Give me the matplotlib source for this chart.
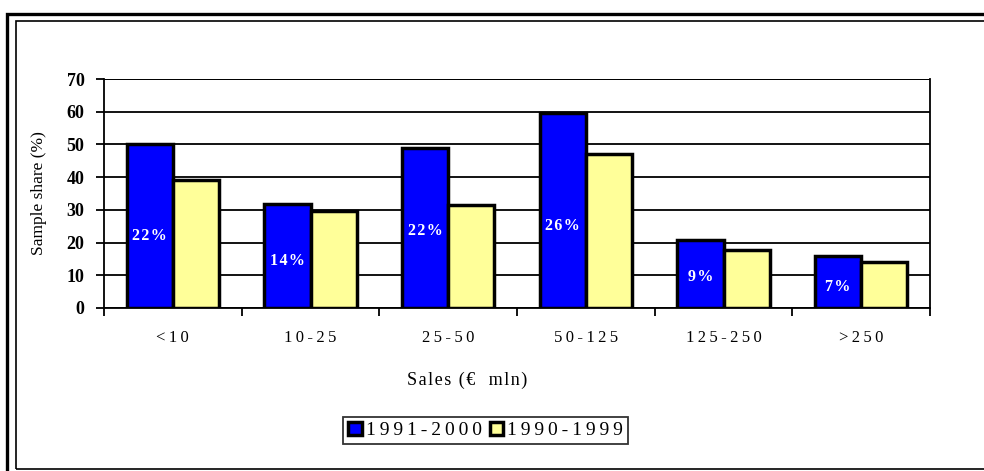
import matplotlib.pyplot as plt
import numpy as np
from matplotlib.patches import Rectangle

categories = ["<10", "10-25", "25-50", "50-125", "125-250", ">250"]
share_1991_2000 = [50, 31.8, 49, 59.5, 20.8, 16]
share_1990_1999 = [39, 29.7, 31.5, 47.2, 17.6, 14]
bar_labels = ["22%", "14%", "22%", "26%", "9%", "7%"]
label_heights = [22, 14.5, 23.5, 25, 9.5, 6.3]
series_names = ["1991-2000", "1990-1999"]

BLUE = "#0000ff"
YELLOW = "#ffff99"
SERIF = ["Liberation Serif", "DejaVu Serif"]


def spaced(s, sep="\u200a"):
    # mimic the wide letter spacing of the original
    return sep.join(s)


plt.rcParams["font.family"] = SERIF

fig = plt.figure(figsize=(9.84, 4.71), dpi=100)

# double frame around the chart area
fig.patches.append(Rectangle((7 / 984, -0.1), 1.2, 0.1 + 457 / 471, transform=fig.transFigure,
                             fill=False, lw=2.4, ec="black"))
fig.patches.append(Rectangle((16 / 984, 2.5 / 471), 1.2, 448 / 471, transform=fig.transFigure,
                             fill=False, lw=1.2, ec="black"))

ax = fig.add_axes([104 / 984, 1 - 308 / 471, 826 / 984, 229 / 471])

x = np.arange(len(categories))
w = 0.335
ax.bar(x - w / 2, share_1991_2000, w, color=BLUE, edgecolor="black", lw=2.5,
       label=spaced(series_names[0], "\u2009"), zorder=3)
ax.bar(x + w / 2, share_1990_1999, w, color=YELLOW, edgecolor="black", lw=2.5,
       label=spaced(series_names[1], "\u2009"), zorder=3)

for xi, txt, h in zip(x, bar_labels, label_heights):
    ax.text(xi - w / 2, h, spaced(txt), color="white", fontweight="bold", fontsize=11.5,
            ha="center", va="center", zorder=4)

ax.set_xlim(-0.5, len(categories) - 0.5)
ax.set_ylim(0, 70)
ax.set_yticks(np.arange(0, 71, 10))
ax.set_yticklabels([str(v) for v in range(0, 71, 10)], fontweight="bold", fontsize=13)
ax.yaxis.grid(True, color="black", lw=1.3, zorder=0)
ax.axhline(70, color="black", lw=1.3, zorder=0)

ax.set_xticks(np.arange(-0.5, len(categories)), minor=False)
ax.set_xticklabels([])
ax.set_xticks(x, minor=True)
ax.set_xticklabels([spaced(c, "\u2009") for c in categories], minor=True, fontsize=12)
ax.tick_params(axis="x", which="major", direction="out", length=6, width=1.3)
ax.tick_params(axis="x", which="minor", length=0, pad=16)
ax.tick_params(axis="y", direction="out", length=6, width=1.3, pad=8)

for side in ["left", "right", "bottom"]:
    ax.spines[side].set_linewidth(1.3)
ax.spines["top"].set_visible(False)

ax.set_ylabel("Sample share (%)", fontsize=12.5, labelpad=14)
ax.set_xlabel(spaced("Sales (€  mln)"), fontsize=13, labelpad=14)
ax.xaxis.set_label_coords(0.44, -0.28)

leg = ax.legend(loc="center", bbox_to_anchor=(0.462, -0.535), ncol=2, fontsize=14,
                frameon=True, fancybox=False, handlelength=0.7, handleheight=0.7,
                handletextpad=0.2, columnspacing=0.4, borderpad=0.25, borderaxespad=0)
leg.get_frame().set_edgecolor("black")
leg.get_frame().set_linewidth(1.3)

fig.savefig("out.png", dpi=100)
